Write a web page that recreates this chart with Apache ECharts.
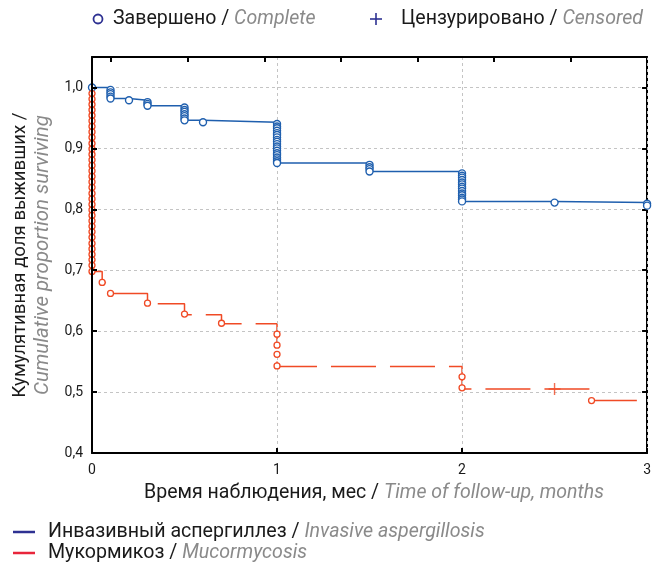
<!DOCTYPE html>
<html><head><meta charset="utf-8">
<script src="https://cdn.jsdelivr.net/npm/echarts@6/dist/echarts.min.js"></script>
<style>html,body{margin:0;padding:0;background:#fff}#c{width:654px;height:569px}</style>
</head><body><div id="c"></div>
<script>
// ---- data ----
const xTicks = [0, 1, 2, 3];
const yTicks = [0.4, 0.5, 0.6, 0.7, 0.8, 0.9, 1.0];
const topTicks = [0, 1, 2, 3, 4, 5, 6];

// Invasive aspergillosis (blue) KM step curve
const blueStepTimes = [0, 0.1, 0.2, 0.3, 0.5, 0.6, 1.0, 1.5, 2.0, 2.5, 3.0];
const blueStepSurv  = [1.0, 0.982, 0.979, 0.970, 0.946, 0.943, 0.876, 0.862, 0.813, 0.811, 0.806];
// complete observations (circles), grouped by time
const blueEventTimes = [0, 0.1, 0.2, 0.3, 0.5, 0.6, 1.0, 1.5, 2.0, 2.5, 3.0];
const blueEventStacks = [
  [1.0],
  [0.996, 0.992, 0.989, 0.985, 0.982],
  [0.979],
  [0.976, 0.973, 0.970],
  [0.967, 0.963, 0.960, 0.956, 0.953, 0.949, 0.946],
  [0.943],
  [0.940, 0.936, 0.933, 0.929, 0.925, 0.922, 0.918, 0.914, 0.911, 0.907, 0.903, 0.900, 0.896, 0.892, 0.889, 0.885, 0.882, 0.879, 0.876],
  [0.873, 0.869, 0.866, 0.862],
  [0.859, 0.855, 0.852, 0.848, 0.844, 0.841, 0.837, 0.834, 0.830, 0.826, 0.823, 0.819, 0.816, 0.813],
  [0.811],
  [0.809, 0.806]
];

// Mucormycosis (red) KM step curve
const redStepTimes = [0, 0, 0.055, 0.1, 0.3, 0.5, 0.7, 1.0, 2.0, 2.7, 3.0];
const redStepSurv  = [1.0, 0.698, 0.680, 0.662, 0.645, 0.627, 0.612, 0.542, 0.505, 0.486, 0.486];
const redEventTimes = [0, 0.055, 0.1, 0.3, 0.5, 0.7, 1.0, 2.0, 2.7];
const redEventStacks = [
  [0.990, 0.981, 0.972, 0.963, 0.954, 0.945, 0.936, 0.927, 0.918, 0.908, 0.899, 0.890, 0.881, 0.872, 0.863, 0.854, 0.845,
   0.836, 0.826, 0.817, 0.808, 0.799, 0.790, 0.781, 0.772, 0.763, 0.754, 0.744, 0.735, 0.726, 0.717, 0.708, 0.698],
  [0.680],
  [0.662],
  [0.646],
  [0.628],
  [0.613],
  [0.595, 0.577, 0.562, 0.543],
  [0.525, 0.507],
  [0.486]
];
const redCensorTimes = [2.5];
const redCensorSurv  = [0.505];

// ---- texts ----
const legendComplete = ['Завершено / ', 'Complete'];
const legendCensored = ['Цензурировано / ', 'Censored'];
const legendBlue = ['Инвазивный аспергиллез / ', 'Invasive aspergillosis'];
const legendRed = ['Мукормикоз / ', 'Mucormycosis'];
const xTitle = ['Время наблюдения, мес / ', 'Time of follow-up, months'];
const yTitle1 = 'Кумулятивная доля выживших /';
const yTitle2 = 'Cumulative proportion surviving';

// ---- styles ----
const FONT = 'Roboto';
const BLUE = '#1f5fae';
const RED = '#f04a25';
const NAVY = '#2e3192';
const LEG_RED = '#e8253b';
const GRAY = '#8a8a8a';
const INK = '#1a1a1a';

const mctx = document.createElement('canvas').getContext('2d');
function tw(t, it) { mctx.font = (it ? 'italic ' : '') + '100px ' + FONT; return mctx.measureText(t).width; }
function fit(n, i, target) { return 100 * target / (tw(n, false) + tw(i, true)); }

const topSize = fit(legendCensored[0], legendCensored[1], 242);
const botSize = fit(legendBlue[0], legendBlue[1], 437);
const xTitleSize = fit(xTitle[0], xTitle[1], 460);
const yT1Size = fit(yTitle1, '', 285);
const yT2Size = fit('', yTitle2, 280);

function rich(size) {
  return {
    a: { fontFamily: FONT, fontSize: size, fill: INK, color: INK },
    b: { fontFamily: FONT, fontSize: size, fontStyle: 'italic', fill: GRAY, color: GRAY }
  };
}
function stackPoints(times, stacks) {
  const out = [];
  times.forEach((t, i) => stacks[i].forEach(v => out.push([t, v])));
  return out;
}
const zip = (a, b) => a.map((v, i) => [v, b[i]]);

const chart = echarts.init(document.getElementById('c'), null, { renderer: 'canvas' });
const axisBlack = { show: true, onZero: false, lineStyle: { color: '#000', width: 2 } };
const tickStyle = { color: '#000', width: 2 };
const gridDash = { color: '#c4c4c4', type: [3, 3], width: 1 };

chart.setOption({
  animation: false,
  backgroundColor: '#fff',
  grid: { left: 92, right: 6, top: 57, bottom: 116 },
  xAxis: [
    { type: 'value', min: 0, max: 3, interval: 1, position: 'bottom', z: 3,
      axisLine: axisBlack,
      axisTick: { show: true, inside: true, length: 5, lineStyle: tickStyle },
      axisLabel: { fontFamily: FONT, fontSize: 14, color: INK, margin: 10, customValues: xTicks,
                   formatter: v => String(v) },
      splitLine: { show: true, lineStyle: gridDash }
    },
    { type: 'value', min: -0.25, max: 7, position: 'top', z: 3,
      axisLine: axisBlack,
      axisTick: { show: true, inside: true, length: 5, customValues: topTicks, lineStyle: tickStyle },
      axisLabel: { show: false },
      splitLine: { show: false }
    }
  ],
  yAxis: [
    { type: 'value', min: 0.4, max: 1.05, interval: 0.1, position: 'left', z: 5,
      axisLine: axisBlack,
      axisTick: { show: true, inside: true, length: 5, customValues: yTicks, lineStyle: tickStyle },
      axisLabel: { fontFamily: FONT, fontSize: 14, color: INK, margin: 9, customValues: yTicks,
                   formatter: v => v.toFixed(1).replace('.', ',') },
      splitLine: { show: false }
    },
    { type: 'value', min: 0.4, max: 1.05, interval: 0.1, position: 'right', z: 1,
      axisLine: axisBlack,
      axisTick: { show: true, inside: true, length: 5, customValues: yTicks, lineStyle: tickStyle },
      axisLabel: { show: false },
      splitLine: { show: true, lineStyle: gridDash }
    }
  ],
  series: [
    { type: 'line', step: 'end', data: zip(blueStepTimes, blueStepSurv), showSymbol: false, z: 2,
      lineStyle: { color: BLUE, width: 1.5 }, silent: true, clip: false },
    { type: 'scatter', data: stackPoints(blueEventTimes, blueEventStacks), symbol: 'circle', symbolSize: 7, z: 3,
      itemStyle: { color: '#fff', borderColor: BLUE, borderWidth: 1.4, opacity: 1 }, silent: true, clip: false },
    { type: 'line', step: 'end', data: zip(redStepTimes, redStepSurv), showSymbol: false, z: 2,
      lineStyle: { color: RED, width: 1.5, type: [45, 14], dashOffset: 13 }, silent: true, clip: false },
    { type: 'scatter', data: stackPoints(redEventTimes, redEventStacks), symbol: 'circle', symbolSize: 6, z: 3,
      itemStyle: { color: '#fff', borderColor: RED, borderWidth: 1.3, opacity: 1 }, silent: true, clip: false },
    { type: 'scatter', data: zip(redCensorTimes, redCensorSurv), symbol: 'path://M0,-6L0,6M-6,0L6,0', symbolSize: 12, z: 4,
      itemStyle: { color: 'none', borderColor: RED, borderWidth: 1.4 }, silent: true, clip: false }
  ],
  graphic: [
    { type: 'circle', shape: { cx: 98, cy: 19, r: 4.5 }, style: { fill: '#fff', stroke: NAVY, lineWidth: 1.8 } },
    { type: 'text', x: 113, y: 19, style: { text: '{a|' + legendComplete[0] + '}{b|' + legendComplete[1] + '}',
      rich: rich(topSize), verticalAlign: 'middle', align: 'left' } },
    { type: 'line', shape: { x1: 370, y1: 19, x2: 382, y2: 19 }, style: { stroke: NAVY, lineWidth: 1.6 } },
    { type: 'line', shape: { x1: 376, y1: 13, x2: 376, y2: 25 }, style: { stroke: NAVY, lineWidth: 1.6 } },
    { type: 'text', x: 401, y: 19, style: { text: '{a|' + legendCensored[0] + '}{b|' + legendCensored[1] + '}',
      rich: rich(topSize), verticalAlign: 'middle', align: 'left' } },

    { type: 'text', x: 374, y: 493, style: { text: '{a|' + xTitle[0] + '}{b|' + xTitle[1] + '}',
      rich: rich(xTitleSize), verticalAlign: 'middle', align: 'center' } },

    { type: 'text', x: 20, y: 255, rotation: Math.PI / 2,
      style: { text: yTitle1, fontFamily: FONT, fontSize: yT1Size, fill: INK, align: 'center', verticalAlign: 'middle' } },
    { type: 'text', x: 43, y: 255, rotation: Math.PI / 2,
      style: { text: yTitle2, fontFamily: FONT, fontSize: yT2Size, fontStyle: 'italic', fill: GRAY, align: 'center', verticalAlign: 'middle' } },

    { type: 'line', shape: { x1: 13, y1: 532, x2: 35, y2: 532 }, style: { stroke: NAVY, lineWidth: 2.5 } },
    { type: 'text', x: 48, y: 532, style: { text: '{a|' + legendBlue[0] + '}{b|' + legendBlue[1] + '}',
      rich: rich(botSize), verticalAlign: 'middle', align: 'left' } },
    { type: 'line', shape: { x1: 13, y1: 553, x2: 35, y2: 553 }, style: { stroke: LEG_RED, lineWidth: 2.5 } },
    { type: 'text', x: 48, y: 553, style: { text: '{a|' + legendRed[0] + '}{b|' + legendRed[1] + '}',
      rich: rich(botSize), verticalAlign: 'middle', align: 'left' } }
  ]
});
</script>
</body></html>
